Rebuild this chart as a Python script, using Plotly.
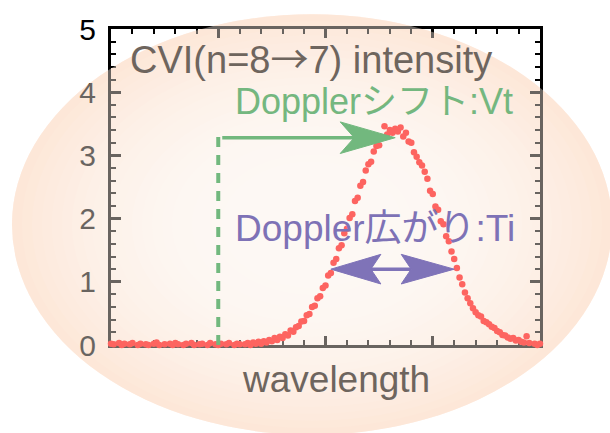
import numpy as np
import plotly.graph_objects as go

# Spectrometer channels across the displayed window (arbitrary wavelength units)
wavelength = np.linspace(0.0, 4.0, 161)

# Measured CVI (n=8->7) line intensity per channel
intensity = [
    0.02, 0.01, -0.01, 0.03, 0.00, 0.02, -0.02, 0.01, 0.03, -0.01,
    0.00, 0.02, -0.03, 0.01, 0.00, -0.02, 0.02, 0.04, 0.00, -0.01,
    0.01, -0.03, 0.02, 0.00, 0.03, 0.01, -0.02, 0.00, 0.02, -0.01,
    0.03, 0.00, -0.02, 0.01, 0.02, -0.01, 0.00, 0.03, -0.02, 0.01,
    0.00, 0.02, -0.01, 0.01, 0.03, -0.02, 0.00, 0.02, 0.01, -0.01,
    0.01, 0.03, 0.00, 0.04, 0.02, 0.05, 0.02, 0.06, 0.04, 0.08, 0.06, 0.11, 0.08, 0.13,
    0.11, 0.17, 0.15, 0.23, 0.21, 0.28, 0.30, 0.37, 0.38, 0.47, 0.49, 0.60, 0.62, 0.74, 0.77, 0.90,
    0.94, 1.10, 1.14, 1.30, 1.36, 1.53, 1.58, 1.77, 1.84, 2.01, 2.07, 2.28, 2.33, 2.52, 2.58, 2.76,
    2.86, 2.90, 3.06, 3.15,
    3.16, 3.29, 3.46, 3.33, 3.40, 3.36, 3.42, 3.38, 3.44, 3.30, 3.36, 3.22, 3.20, 3.05, 2.98, 2.89,
    2.84, 2.74, 2.63, 2.44,
    2.39, 2.19, 2.14, 1.96, 1.91, 1.72, 1.64, 1.48, 1.36,
    1.22, 1.07, 0.96, 0.83, 0.74, 0.66, 0.58, 0.52, 0.47, 0.45, 0.38, 0.36, 0.33, 0.29, 0.27, 0.22,
    0.20, 0.16, 0.15, 0.12, 0.10, 0.11, 0.07, 0.08, 0.05, 0.04, 0.14, 0.03, -0.01, 0.02, 0.00, 0.02,
]

y_ticks = [0, 1, 2, 3, 4, 5]

# Annotation anchors (data units)
rest_position = 1.0        # unshifted line position (dashed marker)
shifted_center = 2.65      # Doppler-shifted line centre
shift_arrow_y = 3.28
rest_marker_top = 3.38
width_level = 1.2          # level at which the broadening arrow spans the line
width_left = 2.05
width_right = 3.20

title_text = "CVI(n=8<span style=\"font-family:'Noto Sans CJK JP'\">→</span>7) intensity"
shift_text = "Dopplerシフト:Vt"
width_text = "Doppler広がり:Ti"
x_title = "wavelength"

# Page geometry
W, H = 610, 433
ML, MR, MT, MB = 111, 70, 25, 88
PW, PH = W - ML - MR, H - MT - MB
X_RANGE = (0.0, 4.0)
Y_RANGE = (0.0, 5.0)
XS = PW / (X_RANGE[1] - X_RANGE[0])   # px per x unit
YS = PH / (Y_RANGE[1] - Y_RANGE[0])   # px per y unit

FONT = "Liberation Sans, Arial, Noto Sans CJK JP, sans-serif"
GREEN = "rgb(16,145,52)"
PURPLE = "rgb(38,26,152)"


def head(tip_x, tip_y, direction, length_px, half_px, notch_px):
    """Barbed arrowhead polygon in data units, pointing along +x (1) or -x (-1)."""
    L, Wd, N = length_px / XS, half_px / YS, notch_px / XS
    bx = tip_x - direction * L
    nx = tip_x - direction * (L - N)
    return ([tip_x, bx, nx, bx, tip_x], [tip_y, tip_y + Wd, tip_y, tip_y - Wd, tip_y])


fig = go.Figure()

# Spectrum points
fig.add_trace(go.Scatter(
    x=wavelength, y=intensity, mode="markers",
    marker=dict(color="rgb(255,0,0)", size=6.5, line=dict(width=0)),
    cliponaxis=False, showlegend=False, hoverinfo="skip",
))

# Rest-wavelength marker
fig.add_trace(go.Scatter(
    x=[rest_position, rest_position], y=[0.0, rest_marker_top], mode="lines",
    line=dict(color=GREEN, width=4, dash="10px,8px"),
    showlegend=False, hoverinfo="skip",
))

# Doppler shift arrow
g_head = head(shifted_center, shift_arrow_y, 1, 55, 16, 14)
fig.add_trace(go.Scatter(
    x=[rest_position + 4 / XS, g_head[0][2]], y=[shift_arrow_y, shift_arrow_y], mode="lines",
    line=dict(color=GREEN, width=3.5), showlegend=False, hoverinfo="skip",
))
fig.add_trace(go.Scatter(
    x=g_head[0], y=g_head[1], mode="lines", fill="toself", fillcolor=GREEN,
    line=dict(color=GREEN, width=1), showlegend=False, hoverinfo="skip",
))

# Doppler broadening double arrow
p_right = head(width_right, width_level, 1, 53, 15, 10)
p_left = head(width_left, width_level, -1, 50, 15, 10)
fig.add_trace(go.Scatter(
    x=[p_left[0][2], p_right[0][2]], y=[width_level, width_level], mode="lines",
    line=dict(color=PURPLE, width=3.5), showlegend=False, hoverinfo="skip",
))
for hx, hy in (p_left, p_right):
    fig.add_trace(go.Scatter(
        x=hx, y=hy, mode="lines", fill="toself", fillcolor=PURPLE,
        line=dict(color=PURPLE, width=1), showlegend=False, hoverinfo="skip",
    ))


# Elliptical backdrop: radial peach gradient underneath, translucent veil on top
def to_paper_x(px):
    return (px - ML) / PW


def to_paper_y(py):
    return (H - MB - py) / PH


ecx, ecy, ea, eb = 312, 223, 300, 213
edge = np.array([255, 226, 207])
white = np.array([255, 255, 255])
shapes = []
steps = 24
for k in range(steps):
    s = 1.0 - k * (0.8 / steps)
    t = max(0.0, (s - 0.25) / 0.75) ** 2.0
    c = white + (edge - white) * t
    shapes.append(dict(
        type="circle", xref="paper", yref="paper", layer="below",
        x0=to_paper_x(ecx - ea * s), x1=to_paper_x(ecx + ea * s),
        y0=to_paper_y(ecy + eb * s), y1=to_paper_y(ecy - eb * s),
        fillcolor="rgb(%d,%d,%d)" % tuple(int(round(v)) for v in c),
        line=dict(width=0),
    ))
shapes.append(dict(
    type="circle", xref="paper", yref="paper", layer="above",
    x0=to_paper_x(ecx - ea), x1=to_paper_x(ecx + ea),
    y0=to_paper_y(ecy + eb), y1=to_paper_y(ecy - eb),
    fillcolor="rgb(250,238,228)", opacity=0.42, line=dict(width=0),
))

annotations = [
    dict(text=title_text, x=0.16, y=4.57, xref="x", yref="y", xanchor="left", yanchor="middle",
         showarrow=False, font=dict(family=FONT, size=38, color="#6e655e")),
    dict(text=shift_text, x=1.14, y=3.86, xref="x", yref="y", xanchor="left", yanchor="middle",
         showarrow=False, font=dict(family=FONT, size=36, color="#74b77f")),
    dict(text=width_text, x=1.14, y=1.85, xref="x", yref="y", xanchor="left", yanchor="middle",
         showarrow=False, font=dict(family=FONT, size=37, color="#7e72b6")),
    dict(text=x_title, x=to_paper_x(336), y=to_paper_y(380), xref="paper", yref="paper",
         xanchor="center", yanchor="middle",
         showarrow=False, font=dict(family=FONT, size=37, color="#6e655e")),
]

axis_common = dict(
    showline=True, linecolor="black", linewidth=3, mirror="allticks",
    ticks="inside", tickcolor="black", tickwidth=2.5,
    showgrid=False, zeroline=False, layer="below traces",
)

fig.update_layout(
    width=W, height=H,
    margin=dict(l=ML, r=MR, t=MT, b=MB, pad=0),
    paper_bgcolor="white", plot_bgcolor="rgba(0,0,0,0)",
    shapes=shapes, annotations=annotations, showlegend=False,
    xaxis=dict(range=list(X_RANGE), tick0=0, dtick=1, ticklen=9, showticklabels=False,
               minor=dict(dtick=0.2, ticklen=5, tickwidth=2, tickcolor="black", ticks="inside"),
               **axis_common),
    yaxis=dict(range=list(Y_RANGE), tickvals=y_ticks, ticklen=10,
               tickfont=dict(family=FONT, size=30, color="black"), ticklabelstandoff=6,
               minor=dict(dtick=0.2, ticklen=5, tickwidth=2, tickcolor="black", ticks="inside"),
               **axis_common),
)

fig.write_html("out.html")
